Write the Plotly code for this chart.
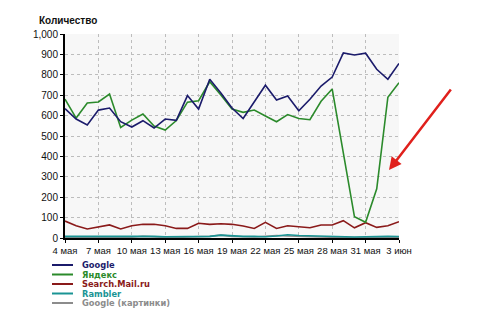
import plotly.graph_objects as go

days = ["4 мая", "5 мая", "6 мая", "7 мая", "8 мая", "9 мая", "10 мая", "11 мая",
        "12 мая", "13 мая", "14 мая", "15 мая", "16 мая", "17 мая", "18 мая", "19 мая",
        "20 мая", "21 мая", "22 мая", "23 мая", "24 мая", "25 мая", "26 мая", "27 мая",
        "28 мая", "29 мая", "30 мая", "31 мая", "1 июн", "2 июн", "3 июн"]

google = [634, 583, 554, 627, 637, 570, 544, 575, 539, 583, 577, 698, 632, 778, 711, 637,
          586, 667, 749, 676, 696, 624, 680, 745, 789, 907, 897, 906, 827, 778, 856]
yandex = [681, 588, 662, 667, 706, 542, 578, 608, 549, 529, 576, 666, 673, 766, 701, 632,
          616, 627, 598, 570, 605, 586, 580, 670, 730, 410, 104, 77, 241, 690, 761]
mail = [83, 60, 44, 55, 64, 44, 60, 67, 67, 60, 47, 47, 72, 67, 70, 67,
        59, 47, 77, 47, 60, 55, 50, 64, 64, 85, 50, 75, 52, 60, 80]
rambler = [8, 8, 8, 8, 8, 8, 7, 10, 8, 6, 6, 6, 6, 8, 14, 10,
           8, 8, 6, 10, 16, 12, 10, 8, 6, 5, 5, 6, 8, 8, 7]
google_img = [2, 2, 2, 2, 2, 3, 4, 8, 4, 3, 3, 4, 5, 8, 14, 8,
              6, 5, 8, 12, 10, 8, 5, 4, 3, 2, 2, 3, 3, 4, 3]

tick_labels = ["4 мая", "7 мая", "10 мая", "13 мая", "16 мая", "19 мая",
               "22 мая", "25 мая", "28 мая", "31 мая", "3 июн"]

series = [
    ("Google", google, "#1b1b6b"),
    ("Яндекс", yandex, "#2b8a2b"),
    ("Search.Mail.ru", mail, "#8a1a1a"),
    ("Rambler", rambler, "#1a9494"),
    ("Google (картинки)", google_img, "#8c8c8c"),
]

fig = go.Figure()
for name, vals, col in reversed(series):
    fig.add_trace(go.Scatter(x=days, y=vals, mode="lines", name=name,
                             line=dict(color=col, width=1.6), showlegend=False))

L, R, T, B = 65, 101, 34, 74
W, H = 500, 312
pw, ph = W - L - R, H - T - B


def px(x):
    return (x - L) / pw


def py(y):
    return (H - B - y) / ph


fig.update_layout(
    width=W, height=H,
    margin=dict(l=L, r=R, t=T, b=B),
    paper_bgcolor="white",
    plot_bgcolor="#f7f7f7",
    font=dict(family="Liberation Sans, Arial, sans-serif", size=10, color="#111"),
    showlegend=False,
)
fig.update_xaxes(
    type="category", range=[0, 30],
    tickmode="array", tickvals=tick_labels, ticktext=tick_labels,
    tickangle=0,
    showgrid=True, gridcolor="#bdbdbd", griddash="dot", gridwidth=1,
    showline=True, linecolor="black", linewidth=2,
    ticks="outside", ticklen=3, tickcolor="black",
    zeroline=False, tickfont=dict(size=9.5),
)
fig.update_yaxes(
    range=[0, 1000], dtick=100, tickformat=",d",
    showgrid=True, gridcolor="#bdbdbd", griddash="dot", gridwidth=1,
    showline=True, linecolor="black", linewidth=2,
    ticks="outside", ticklen=3, tickcolor="black",
    zeroline=False, tickfont=dict(size=10),
)

anns = [dict(text="<b>Количество</b>", xref="paper", yref="paper",
             x=px(37), y=py(20), xanchor="left", yanchor="middle",
             showarrow=False, font=dict(size=10, color="#111"))]
shapes = []
ys = [265, 274.5, 284, 293.5, 303]
for (name, vals, col), yy in zip(series, ys):
    anns.append(dict(text="<b>" + name + "</b>", xref="paper", yref="paper",
                     x=px(81), y=py(yy), xanchor="left", yanchor="middle",
                     showarrow=False, borderpad=0,
                     font=dict(family="DejaVu Sans, sans-serif", size=8.3, color=col)))
    shapes.append(dict(type="line", xref="paper", yref="paper",
                       x0=px(52), x1=px(73), y0=py(yy), y1=py(yy),
                       line=dict(color=col, width=2)))

anns.append(dict(text="", xref="paper", yref="paper", x=px(389), y=py(170),
                 ax=63, ay=-82, showarrow=True, arrowhead=2, arrowsize=1,
                 arrowwidth=2.5, arrowcolor="#e0201c"))

fig.update_layout(annotations=anns, shapes=shapes)
fig.write_html("out.html")
